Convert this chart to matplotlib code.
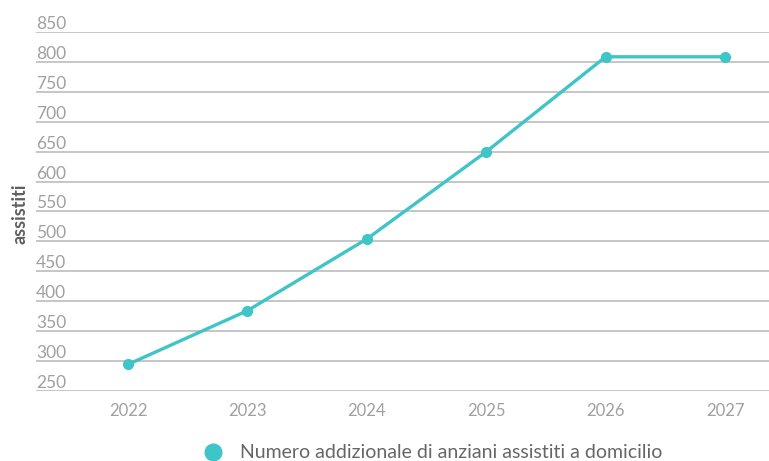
import matplotlib
matplotlib.use("Agg")
import matplotlib.pyplot as plt
from matplotlib.transforms import blended_transform_factory, ScaledTranslation

years = [2022, 2023, 2024, 2025, 2026, 2027]
values = [294, 384, 504, 650, 809, 809]
yticks = [250, 300, 350, 400, 450, 500, 550, 600, 650, 700, 750, 800, 850]
series_name = "Numero addizionale di anziani assistiti a domicilio"
ylabel = "assistiti"

plt.rcParams['font.family'] = ['Lato', 'DejaVu Sans']
teal = "#3fc4c8"

fig = plt.figure(figsize=(7.69, 4.61), dpi=100)
W, H = 769, 461
ax = fig.add_axes([36 / W, (H - 390.7) / H, (W - 36) / W, (390.7 - 32.3) / H])
ax.set_xlim(2022 - 92 / 119.4, 2027 + 44 / 119.4)
ax.set_ylim(250, 850)

for y in yticks:
    ax.axhline(y, color="#c6c6c6", lw=1.4, zorder=1)

ax.plot(years, values, color=teal, lw=2.4, marker="o", ms=7, zorder=3,
        solid_capstyle="round")

for s in ax.spines.values():
    s.set_visible(False)
ax.set_yticks([])
ax.set_xticks(years)
ax.set_xticklabels([str(y) for y in years], fontsize=12, color="#a0a0a0")
ax.tick_params(axis="x", length=0, pad=9)

trans = blended_transform_factory(ax.transAxes, ax.transData) + \
    ScaledTranslation(0, 3 / 100, fig.dpi_scale_trans)
for y in yticks:
    ax.text(0, y, str(y), transform=trans, ha="left", va="baseline",
            fontsize=12.5, color="#a0a0a0", zorder=2)

fig.text(20 / W, 1 - 214 / H, ylabel, rotation=90, ha="center", va="center",
         fontsize=13, color="#5f5f5f", fontweight="bold")

fig.lines.append(plt.Line2D([213 / W], [1 - 452 / H], transform=fig.transFigure,
                            marker="o", ms=12, color=teal, lw=0))
fig.text(240 / W, 1 - 452 / H, series_name, ha="left", va="center",
         fontsize=14, color="#666666")

fig.savefig("out.png", dpi=100)
